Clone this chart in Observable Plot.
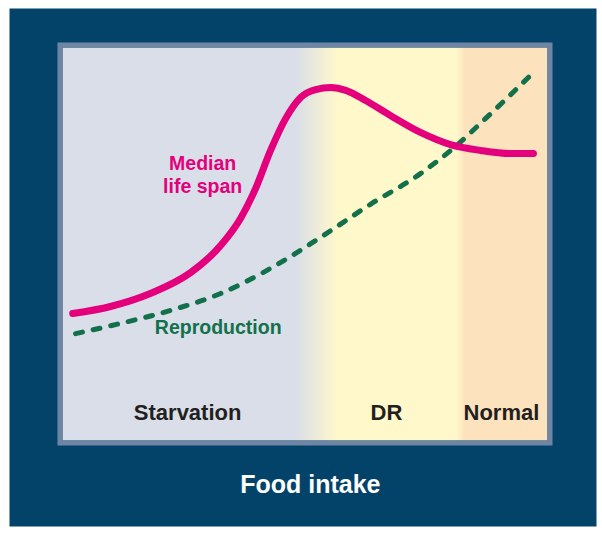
<!DOCTYPE html>
<html>
<head>
<meta charset="utf-8">
<script src="https://cdn.jsdelivr.net/npm/d3@7"></script>
<script src="https://cdn.jsdelivr.net/npm/@observablehq/plot@0.6"></script>
<style>
  html, body { margin: 0; padding: 0; background: #ffffff; }
  #chart svg { display: block; }
</style>
</head>
<body>
<div id="chart"></div>
<script>
// Food intake (0–100) on x, relative response (0–100) on y
const lifeSpanX = [2.1, 9.9, 18.1, 26.4, 32.6, 36.7, 39.8, 42.9, 46.0, 49.1, 52.2, 55.3, 58.4, 62.5, 67.6, 73.8, 80.0, 86.2, 92.4, 97.1];
const lifeSpanY = [32.3, 34.1, 37.4, 42.7, 49.6, 56.5, 64.1, 73.8, 81.9, 87.3, 89.3, 89.8, 89.1, 86.5, 82.7, 78.4, 75.3, 73.8, 73.0, 73.0];

const reproX = [2.7, 12.0, 22.3, 32.6, 42.9, 53.2, 63.5, 73.8, 81.0, 87.2, 92.4, 96.9];
const reproY = [27.2, 29.8, 33.1, 37.4, 43.8, 51.7, 60.1, 67.9, 74.8, 81.9, 88.0, 93.4];

// Background zones: gradient stops along food intake
const zoneStops = [0, 48.0, 56.7, 81.2, 82.9, 100];
const zoneColors = ["#d9dee8", "#d9dee8", "#fff8cb", "#fff8cb", "#fde2be", "#fde2be"];

// Zone labels
const zoneNames = ["Starvation", "DR", "Normal"];
const zoneLabelX = [25.8, 66.8, 90.5];
const zoneLabelY = 6.9;

// Curve labels
const curveLabels = ["Median\nlife span", "Reproduction"];
const curveLabelX = [28.9, 32.1];
const curveLabelY = [67.8, 29.0];
const curveColors = ["#e4007c", "#12704a"];

const xTitle = "Food intake";
const xTitlePos = {x: 51.1, y: -11.3};

const navy = "#03436a";

const lifeData = lifeSpanX.map((x, i) => ({x, y: lifeSpanY[i]}));
const reproData = reproX.map((x, i) => ({x, y: reproY[i]}));
const zoneData = zoneNames.map((name, i) => ({name, x: zoneLabelX[i], y: zoneLabelY}));
const curveLabelData = curveLabels.map((t, i) => ({t, x: curveLabelX[i], y: curveLabelY[i], c: curveColors[i]}));

const gradientDefs = () => {
  const defs = d3.create("svg:defs");
  const g = defs.append("linearGradient").attr("id", "zoneGrad")
    .attr("x1", "0").attr("x2", "1").attr("y1", "0").attr("y2", "0");
  zoneStops.forEach((s, i) => {
    g.append("stop").attr("offset", s / 100).attr("stop-color", zoneColors[i]);
  });
  return defs.node();
};

const plot = Plot.plot({
  width: 602,
  height: 534,
  marginLeft: 62,
  marginRight: 55,
  marginTop: 47,
  marginBottom: 94,
  x: {domain: [0, 100], axis: null},
  y: {domain: [0, 100], axis: null},
  style: {background: "transparent", fontFamily: "'Liberation Sans', Arial, sans-serif"},
  marks: [
    gradientDefs,
    Plot.frame({fill: navy, stroke: "none", insetLeft: -53, insetRight: -49, insetTop: -39, insetBottom: -86}),
    Plot.frame({fill: "url(#zoneGrad)", stroke: "none"}),
    Plot.frame({stroke: "#6e86a4", strokeWidth: 5, inset: -2.5}),
    Plot.line(reproData, {x: "x", y: "y", curve: "monotone-x", stroke: curveColors[1], strokeWidth: 5, strokeDasharray: "7,11", strokeLinecap: "round"}),
    Plot.line(lifeData, {x: "x", y: "y", curve: "monotone-x", stroke: curveColors[0], strokeWidth: 7, strokeLinecap: "round"}),
    Plot.text(curveLabelData, {x: "x", y: "y", text: "t", fill: "c", fontSize: 19.5, fontWeight: "bold", lineHeight: 1.18, textAnchor: "middle"}),
    Plot.text(zoneData, {x: "x", y: "y", text: "name", fill: "#231f20", fontSize: 22, fontWeight: "bold", textAnchor: "middle"}),
    Plot.text([xTitlePos], {x: "x", y: "y", text: () => xTitle, fill: "#ffffff", fontSize: 25, fontWeight: "bold", textAnchor: "middle"})
  ]
});
document.getElementById("chart").appendChild(plot);
</script>
</body>
</html>
